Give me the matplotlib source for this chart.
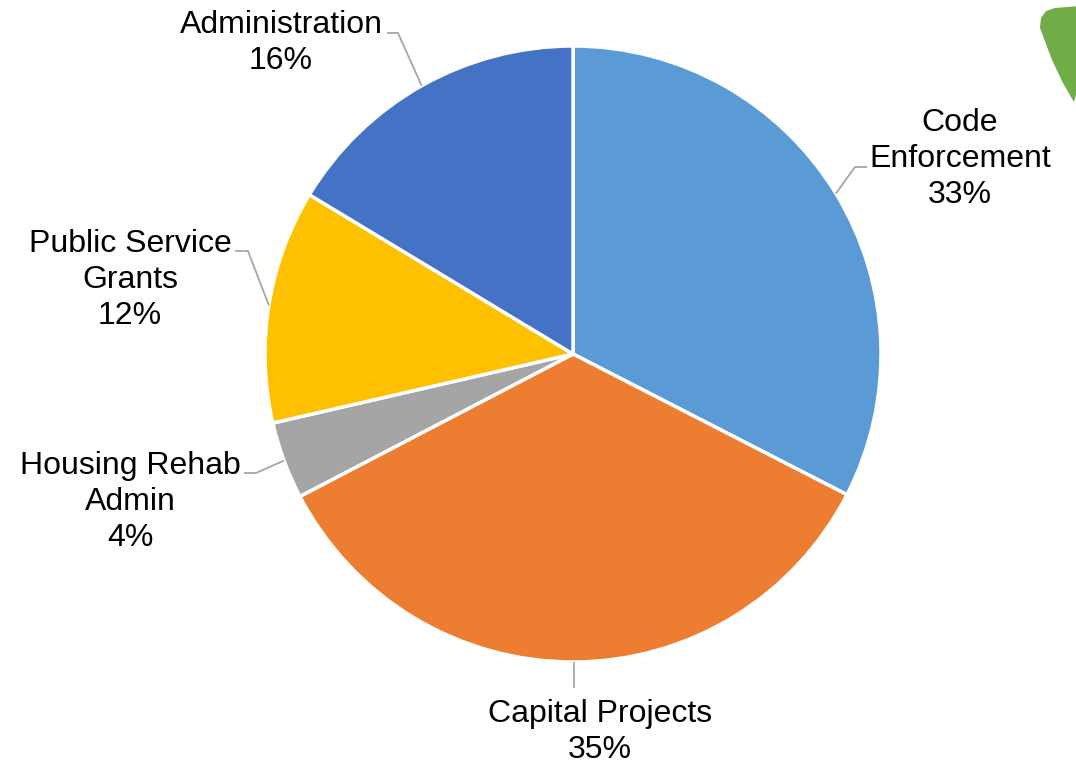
import matplotlib.pyplot as plt
import numpy as np
from matplotlib.patches import Polygon

# data
categories = ['Code\nEnforcement', 'Capital Projects', 'Housing Rehab\nAdmin',
              'Public Service\nGrants', 'Administration']
shares = [32.55, 34.8, 4.05, 12.25, 16.35]
colors = ['#5B9BD5', '#ED7D31', '#A5A5A5', '#FFC000', '#4472C4']

# figure parameters (pixel space, y measured from the top)
W, H = 1076, 765
CENTER = (573, 354)
RADIUS = 308
FONT = 'Liberation Sans'
LABEL_SIZE = 23

# label centers and leader elbows (pixels)
label_pos = [(960, 159), (600, 732), (130, 502), (130, 280), (281, 43)]
leader_pts = [
    [(867, 167), (855, 167)],
    [(574, 688)],
    [(244, 473), (256, 473)],
    [(235, 251), (248, 251)],
    [(387, 33), (398, 33)],
]


def fy(y):
    return H - y


fig = plt.figure(figsize=(W / 100, H / 100), dpi=100)
ax = fig.add_axes([0, 0, 1, 1])
ax.set_xlim(0, W)
ax.set_ylim(0, H)
ax.set_aspect('equal')
ax.axis('off')

wedges, _ = ax.pie(shares, colors=colors, startangle=90, counterclock=False,
                   center=(CENTER[0], fy(CENTER[1])), radius=RADIUS,
                   wedgeprops=dict(edgecolor='white', linewidth=2.5))
ax.set_xlim(0, W)
ax.set_ylim(0, H)

total = sum(shares)
for w, name, val, pos, pts in zip(wedges, categories, shares, label_pos, leader_pts):
    mid = np.deg2rad((w.theta1 + w.theta2) / 2)
    ax_x = CENTER[0] + RADIUS * np.cos(mid)
    ax_y = fy(CENTER[1]) + RADIUS * np.sin(mid)
    xs = [p[0] for p in pts] + [ax_x]
    ys = [fy(p[1]) for p in pts] + [ax_y]
    ax.plot(xs, ys, color='#A6A6A6', lw=1.3, solid_capstyle='butt')
    ax.text(pos[0], fy(pos[1]), f"{name}\n{val / total * 100:.0f}%",
            ha='center', va='center', fontsize=LABEL_SIZE, family=FONT,
            linespacing=1.25, color='black')

# decorative green shape at top right
green_xy = [(1040, 28), (1041, 18), (1046, 11), (1055, 8), (1080, 6),
            (1080, 80), (1074, 102), (1063, 83), (1052, 60)]
green = Polygon([(x, fy(y)) for x, y in green_xy], closed=True,
                facecolor='#70AD47', edgecolor='none')
ax.add_patch(green)

fig.savefig('out.png', dpi=100)
